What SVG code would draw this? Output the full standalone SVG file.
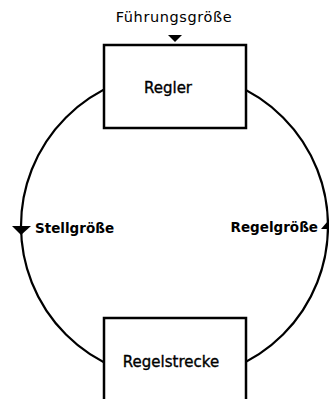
<svg xmlns="http://www.w3.org/2000/svg" width="329" height="399" viewBox="0 0 329 399">
<style>
.box{fill:#fff;stroke:#000;stroke-width:2.5}
.t{font-family:"DejaVu Sans","Liberation Sans",sans-serif;font-size:13px;fill:#000;font-weight:bold}
.n{font-family:"DejaVu Sans","Liberation Sans",sans-serif;font-size:15px;fill:#000;stroke:#000;stroke-width:0.35}
.line{fill:none;stroke:#000;stroke-width:2.2}
</style>
<rect width="329" height="399" fill="#fff"/>
<g id="connectors">
<circle class="line" cx="174.5" cy="226" r="153.5"/>
<polygon points="168,35 182,35 175,42" fill="#000"/>
<polygon points="12,226 31,226 21,235" fill="#000"/>
<polygon points="321,229 328,221 328,229" fill="#000"/>
</g>
<g id="regler">
<rect class="box" x="104" y="45" width="142" height="83"/>
<text class="n" x="168" y="93" text-anchor="middle">Regler</text>
</g>
<g id="regelstrecke">
<rect class="box" x="104" y="318" width="142" height="90"/>
<text class="n" x="171" y="367" text-anchor="middle">Regelstrecke</text>
</g>
<g id="labels">
<text class="t" x="174" y="22" text-anchor="middle" style="font-weight:normal;font-size:14.5px;letter-spacing:0.6px">Führungsgröße</text>
<text class="t" x="35" y="233" style="font-size:13.5px">Stellgröße</text>
<text class="t" x="318" y="232" text-anchor="end" style="font-size:13.5px">Regelgröße</text>
</g>
</svg>
